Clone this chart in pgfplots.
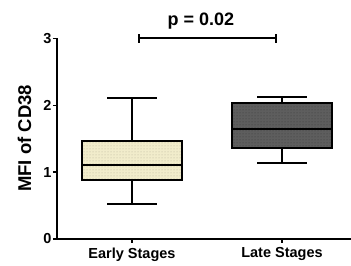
\documentclass[border=0pt]{standalone}
\usepackage{fontspec}
\setmainfont{Liberation Sans}
\usepackage{pgfplots}
\pgfplotsset{compat=1.18}
\usepgfplotslibrary{statistics}
\usetikzlibrary{patterns}
\definecolor{earlyfill}{HTML}{F1ECCB}
\definecolor{earlydot}{HTML}{B8B39A}
\definecolor{latefill}{HTML}{5E5E5E}
\definecolor{latedot}{HTML}{3A3A3A}
\begin{document}
\begin{tikzpicture}
\begin{axis}[
  scale only axis,
  width=294pt, height=200.5pt,
  xmin=-0.5, xmax=1.46,
  ymin=0, ymax=3,
  axis lines=left,
  axis line style={-, line width=2pt, black},
  clip=false,
  boxplot/draw direction=y,
  xtick={0,1},
  xticklabels={Early Stages, Late Stages},
  ytick={0,1,2,3},
  tick align=outside,
  major tick length=4pt,
  tick style={line width=1.5pt, black},
  /pgf/number format/assume math mode=true,
  xticklabel style={font=\fontsize{14.5}{16}\selectfont\bfseries, yshift=-1pt},
  yticklabel style={font=\fontsize{14.5}{16}\selectfont\bfseries, xshift=2pt},
]
\addplot[boxplot prepared={lower whisker=0.52, lower quartile=0.89, median=1.10,
  upper quartile=1.47, upper whisker=2.11, draw position=0,
  box extend=0.667, whisker extend=0.33},
  boxplot/every box/.style={fill=earlyfill, postaction={pattern=dots, pattern color=earlydot}},
  draw=black, line width=2pt] coordinates {};
\addplot[boxplot prepared={lower whisker=1.14, lower quartile=1.36, median=1.65,
  upper quartile=2.03, upper whisker=2.13, draw position=1,
  box extend=0.667, whisker extend=0.33},
  boxplot/every box/.style={fill=latefill, postaction={pattern=dots, pattern color=latedot}},
  draw=black, line width=2pt] coordinates {};
\draw[line width=2pt] (axis cs:0.047,3) -- (axis cs:0.96,3);
\draw[line width=2pt] (axis cs:0.047,2.933) -- (axis cs:0.047,3.067);
\draw[line width=2pt] (axis cs:0.96,2.933) -- (axis cs:0.96,3.067);
\node[anchor=base, font=\fontsize{18}{20}\selectfont\bfseries] at (axis cs:0.46,3.2) {p = 0.02};
\node[rotate=90, font=\fontsize{18.5}{20}\selectfont\bfseries] at (axis cs:-0.717,1.504) {MFI of CD38};
\coordinate (bbSW) at (axis cs:-0.88,-0.404);
\coordinate (bbNE) at (axis cs:1.46,3.576);
\end{axis}
\pgfresetboundingbox
\path[use as bounding box] (bbSW) rectangle (bbNE);
\end{tikzpicture}
\end{document}
